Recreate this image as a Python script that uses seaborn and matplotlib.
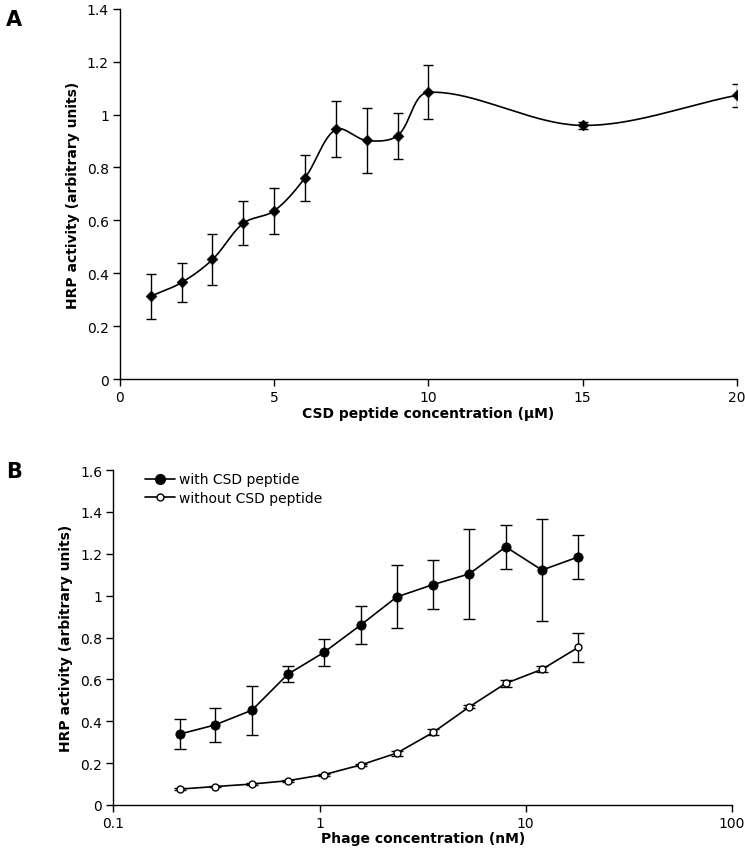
import numpy as np
import matplotlib
matplotlib.use("Agg")
import matplotlib.pyplot as plt
from matplotlib.lines import Line2D
from matplotlib.ticker import FormatStrFormatter, NullLocator, FixedLocator
import seaborn as sns

# panel A: HRP activity vs CSD peptide concentration
csd_conc = [1, 2, 3, 4, 5, 6, 7, 8, 9, 10, 15, 20]
csd_hrp = [0.313, 0.365, 0.452, 0.589, 0.636, 0.761, 0.944, 0.902, 0.920, 1.084, 0.959, 1.073]
csd_err = [0.086, 0.075, 0.095, 0.083, 0.087, 0.086, 0.106, 0.123, 0.087, 0.102, 0.012, 0.044]

# panel B: HRP activity vs phage concentration
phage_conc = [0.21, 0.31, 0.47, 0.70, 1.05, 1.58, 2.37, 3.56, 5.33, 8.0, 12.0, 18.0]
with_csd = [0.339, 0.382, 0.453, 0.624, 0.729, 0.859, 0.994, 1.053, 1.104, 1.233, 1.122, 1.185]
with_err = [0.072, 0.082, 0.117, 0.038, 0.064, 0.090, 0.150, 0.117, 0.214, 0.104, 0.244, 0.107]
without_csd = [0.076, 0.088, 0.100, 0.116, 0.145, 0.191, 0.248, 0.347, 0.469, 0.581, 0.648, 0.753]
without_err = [0.004, 0.004, 0.006, 0.005, 0.005, 0.005, 0.012, 0.015, 0.008, 0.015, 0.015, 0.068]

sns.set_style("ticks", {"axes.edgecolor": "black", "text.color": "black",
                        "axes.labelcolor": "black", "xtick.color": "black",
                        "ytick.color": "black"})
plt.rcParams['font.family'] = ['DejaVu Sans']


def smooth_curve(x, y, xs=31.0, ys=266.0, n=40):
    # Excel-like smoothed line: bezier segments, tangents weighted by
    # on-screen segment lengths (xs, ys = rough pixels per data unit)
    p = np.column_stack([x, y]).astype(float)
    sc = np.array([xs, ys])
    d = np.linalg.norm(np.diff(p, axis=0) * sc, axis=1)
    pts = []
    for i in range(len(p) - 1):
        p1, p2 = p[i], p[i + 1]
        if i > 0:
            c1 = p1 + (p2 - p[i - 1]) * d[i] / (d[i - 1] + d[i]) / 3
        else:
            c1 = p1 + (p2 - p1) / 3
        if i + 2 < len(p):
            c2 = p2 - (p[i + 2] - p1) * d[i] / (d[i] + d[i + 1]) / 3
        else:
            c2 = p2 - (p2 - p1) / 3
        t = np.linspace(0, 1, n)[:, None]
        seg = (1 - t) ** 3 * p1 + 3 * (1 - t) ** 2 * t * c1 + 3 * (1 - t) * t ** 2 * c2 + t ** 3 * p2
        pts.append(seg if i == 0 else seg[1:])
    pts = np.vstack(pts)
    return pts[:, 0], pts[:, 1]


fig = plt.figure(figsize=(7.45, 8.53), dpi=100)
axA = fig.add_axes([0.161, 0.5545, 0.828, 0.434])
axB = fig.add_axes([0.1523, 0.0551, 0.8300, 0.3927])

# ---- panel A
sx, sy = smooth_curve(csd_conc, csd_hrp)
sns.lineplot(x=sx, y=sy, ax=axA, color='black', lw=1.2, sort=False, estimator=None)
axA.errorbar(csd_conc, csd_hrp, yerr=csd_err, fmt='none', ecolor='black',
             elinewidth=1, capsize=3.7, capthick=1)
sns.scatterplot(x=csd_conc, y=csd_hrp, ax=axA, marker='D', s=30, color='black',
                edgecolor='black', zorder=5)
axA.set_xlim(0, 20)
axA.set_ylim(0, 1.4)
axA.xaxis.set_major_locator(FixedLocator([0, 5, 10, 15, 20]))
axA.yaxis.set_major_locator(FixedLocator(np.arange(0, 1.41, 0.2)))
axA.yaxis.set_major_formatter(FormatStrFormatter('%g'))
axA.set_xlabel("CSD peptide concentration (μM)", fontsize=10, fontweight='bold', labelpad=1)
axA.set_ylabel("HRP activity (arbitrary units)", fontsize=10, fontweight='bold', labelpad=5)

# ---- panel B
sns.lineplot(x=phage_conc, y=with_csd, ax=axB, color='black', lw=1.2, sort=False, estimator=None)
sns.lineplot(x=phage_conc, y=without_csd, ax=axB, color='black', lw=1.2, sort=False, estimator=None)
axB.errorbar(phage_conc, with_csd, yerr=with_err, fmt='none', ecolor='black',
             elinewidth=1, capsize=4.2, capthick=1)
axB.errorbar(phage_conc, without_csd, yerr=without_err, fmt='none', ecolor='black',
             elinewidth=1, capsize=4.2, capthick=1)
sns.scatterplot(x=phage_conc, y=with_csd, ax=axB, marker='o', s=45, color='black',
                edgecolor='black', zorder=5)
sns.scatterplot(x=phage_conc, y=without_csd, ax=axB, marker='o', s=25, facecolor='white',
                edgecolor='black', linewidth=1, zorder=5)
axB.set_xscale('log')
axB.set_xlim(0.1, 100)
axB.set_ylim(0, 1.6)
axB.xaxis.set_major_locator(FixedLocator([0.1, 1, 10, 100]))
axB.xaxis.set_minor_locator(NullLocator())
axB.xaxis.set_major_formatter(FormatStrFormatter('%g'))
axB.yaxis.set_major_locator(FixedLocator(np.arange(0, 1.61, 0.2)))
axB.yaxis.set_major_formatter(FormatStrFormatter('%g'))
axB.set_xlabel("Phage concentration (nM)", fontsize=10, fontweight='bold', labelpad=1)
axB.set_ylabel("HRP activity (arbitrary units)", fontsize=10, fontweight='bold', labelpad=5)

handles = [
    Line2D([0], [0], color='black', lw=1.2, marker='o', markersize=7, markerfacecolor='black'),
    Line2D([0], [0], color='black', lw=1.2, marker='o', markersize=5, markerfacecolor='white'),
]
axB.legend(handles, ["with CSD peptide", "without CSD peptide"], loc='upper left',
           bbox_to_anchor=(0.03, 1.03), frameon=False, fontsize=10,
           handlelength=2.2, handletextpad=0.3, labelspacing=0.35)

for ax in (axA, axB):
    sns.despine(ax=ax)
    ax.tick_params(axis='both', labelsize=10, length=5, width=1, direction='out', pad=3)
    for s in ax.spines.values():
        s.set_linewidth(1)

fig.text(0.008, 0.97, "A", fontsize=15, fontweight='bold')
fig.text(0.008, 0.44, "B", fontsize=15, fontweight='bold')

fig.savefig("out.png", dpi=100)
